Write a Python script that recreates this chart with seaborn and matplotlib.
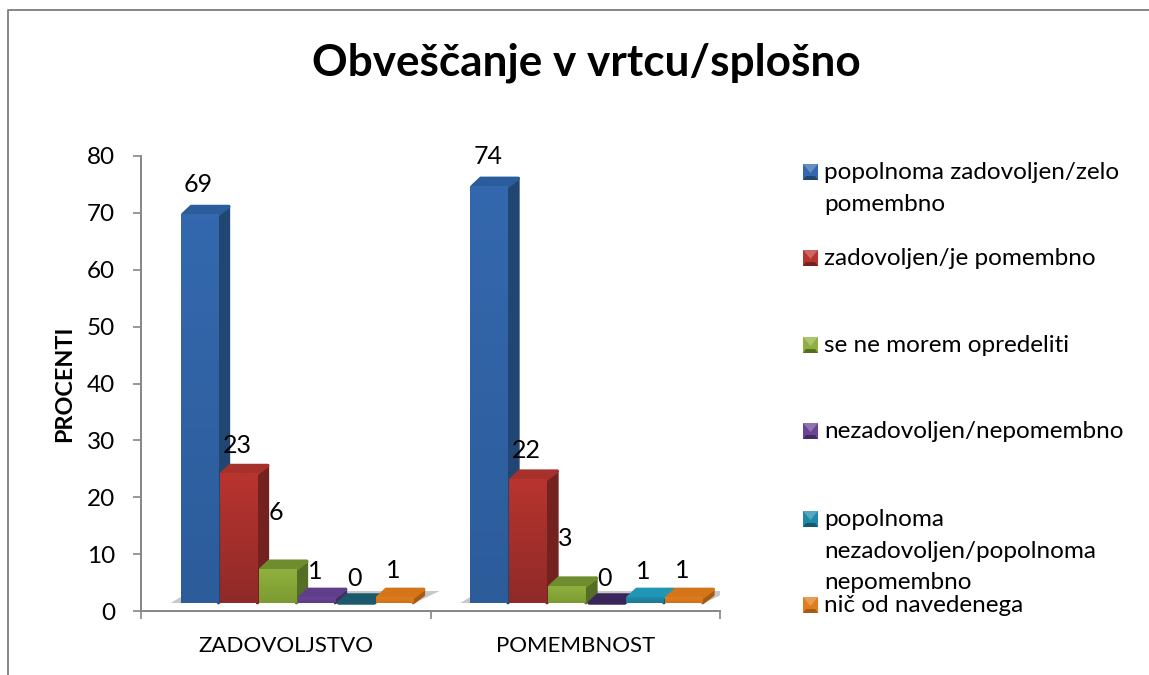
import numpy as np
import pandas as pd
import seaborn as sns
from matplotlib import pyplot as plt
from matplotlib.colors import LinearSegmentedColormap, to_rgb
from matplotlib.lines import Line2D
from matplotlib.patches import Polygon, Rectangle

kategorije = ['ZADOVOLJSTVO', 'POMEMBNOST']
odgovori = ['popolnoma zadovoljen/zelo\npomembno', 'zadovoljen/je pomembno', 'se ne morem opredeliti',
            'nezadovoljen/nepomembno', 'popolnoma\nnezadovoljen/popolnoma\nnepomembno', 'nič od navedenega']
zadovoljstvo = [69, 23, 6, 1, 0, 1]
pomembnost = [74, 22, 3, 0, 1, 1]

# (front top, front bottom, side, top) for each series
barve = [('#3468ae', '#2c5c9a', '#214672', '#2b5c9c'),
         ('#b8342f', '#8f2a28', '#73221f', '#a5302c'),
         ('#8fb03e', '#7c9a32', '#566d26', '#6f8c2e'),
         ('#6a4596', '#5c3b85', '#432c62', '#5f3f8c'),
         ('#1f8aa8', '#1b7a96', '#145a6e', '#1f86a4'),
         ('#e07d1e', '#cf7219', '#a65a12', '#d4751a')]
# bars with value 0 only show a dark lid
barve_nic = {3: '#38265a', 4: '#1b5a6c'}
# label distance above the value, px (6 and 3 were moved by hand in the original)
odmik_oznak = [[34, 35, 64, 34, 33, 35], [34, 35, 55, 33, 34, 35]]
legenda_y = [172, 258, 345, 431, 519, 605]

sns.set_theme(style='white')
plt.rcParams['font.family'] = ['Lato', 'DejaVu Sans']

df = pd.DataFrame({
    'kategorija': np.repeat(kategorije, len(odgovori)),
    'odgovor': odgovori * 2,
    'vrednost': zadovoljstvo + pomembnost,
})

fig = plt.figure(figsize=(11.49, 6.75), dpi=100)
ax = fig.add_axes([141 / 1149, 64 / 675, 579 / 1149, 455 / 675])
sns.barplot(data=df, x='kategorija', y='vrednost', hue='odgovor', hue_order=odgovori,
            width=0.808, gap=0, saturation=1, legend=False, errorbar=None, ax=ax,
            palette=[b[0] for b in barve])

px_x = 1 / 289.5
px_y = 80 / 455
premik = 12 * px_x
tla = 8 * px_y
globina_x = 10.5 * px_x
globina_y = 8 * px_y

# floor shadow under each group
for c in range(len(kategorije)):
    x0 = c - 0.404 + premik
    x1 = c + 0.404 + premik
    ax.add_patch(Polygon([(x0 - 10 * px_x, tla), (x1, tla), (x1 + 25 * px_x, tla + 12 * px_y),
                          (x0 + 10 * px_x, tla + 12 * px_y)], closed=True,
                         fc='#c8c8c8', ec='none', zorder=1))

z = 2
for h, vsebnik in enumerate(ax.containers):
    for c, bar in enumerate(vsebnik):
        v = df[df['kategorija'] == kategorije[c]]['vrednost'].iloc[h]
        x = bar.get_x() + premik
        w = bar.get_width() - 1.5 * px_x
        top = tla + v * 0.99
        bar.set_visible(False)
        lid = barve_nic.get(h, barve[h][3]) if v == 0 else barve[h][3]
        if h == 4 and c == 1:
            lid = '#2196b5'
        if v > 0:
            ax.add_patch(Polygon([(x + w, tla), (x + w + globina_x, tla + globina_y),
                                  (x + w + globina_x, top + globina_y), (x + w, top)], closed=True,
                                 fc=barve[h][2], ec=barve[h][2], lw=2, joinstyle='round', zorder=z))
        ax.add_patch(Polygon([(x + 2 * px_x, top), (x + w, top), (x + w + globina_x, top + globina_y),
                              (x + globina_x, top + globina_y)], closed=True,
                             fc=lid, ec=lid, lw=2.5, joinstyle='round', zorder=z))
        if v > 0:
            cmap = LinearSegmentedColormap.from_list('f', [barve[h][0], barve[h][1]])
            ax.imshow(np.linspace(0, 1, 64).reshape(-1, 1), cmap=cmap, aspect='auto',
                      extent=(x, x + w, tla, top), origin='upper', zorder=z + 0.5)
        ax.annotate(str(v), xy=(x + w / 2, v), xytext=(-1, odmik_oznak[c][h] * 0.72),
                    textcoords='offset points', ha='center', va='center',
                    fontsize=18, color='black', zorder=50)
        z += 1

ax.set_xlim(-0.5, 1.5)
ax.set_ylim(0, 80)
ax.set_yticks(range(0, 90, 10))
ax.set_xticks([0, 1])
ax.set_xticks([-0.5, 0.5, 1.5], minor=True)
ax.tick_params(axis='y', which='major', length=6, width=1.2, color='#868686', left=True,
               labelsize=17.5, labelcolor='black', pad=12.5)
ax.tick_params(axis='x', which='minor', length=6, width=1.2, color='#868686', bottom=True)
ax.tick_params(axis='x', which='major', length=0, labelsize=16, labelcolor='black', pad=18)
ax.set_xlabel('')
ax.set_ylabel('PROCENTI', fontsize=16.8, fontweight='bold', color='black', labelpad=8.5)
sns.despine(ax=ax)
for s in ['left', 'bottom']:
    ax.spines[s].set_color('#868686')
    ax.spines[s].set_linewidth(1.4)

fig.text(586 / 1149, 1 - 63 / 675, 'Obveščanje v vrtcu/splošno', ha='center', va='center',
         fontsize=31.8, fontweight='bold', color='black')


def svetlejsa(barva, delez):
    r = np.array(to_rgb(barva))
    return tuple(r + (1 - r) * delez)


# legend entries are spaced unevenly in the original, so they are placed one by one
fw, fh = 1 / 1149, 1 / 675
for h, odgovor in enumerate(odgovori):
    yp = legenda_y[h]
    px, py, s = 803, 1 - (yp + 8) / 675, 15
    fig.add_artist(Rectangle((px * fw, py), s * fw, 16 * fh, transform=fig.transFigure,
                             fc=barve[h][0], ec='none'))
    fig.add_artist(Polygon([(px * fw, py), ((px + s) * fw, py), ((px + s - 3) * fw, py + 4 * fh),
                            ((px + 3) * fw, py + 4 * fh)], closed=True,
                           transform=fig.transFigure, fc=barve[h][2], ec='none'))
    fig.add_artist(Polygon([(px * fw, py + 16 * fh), ((px + s) * fw, py + 16 * fh),
                            ((px + s / 2) * fw, py + 7 * fh)], closed=True,
                           transform=fig.transFigure, fc=svetlejsa(barve[h][0], 0.25), ec='none'))
    fig.text(824 / 1149, 1 - (yp - 10) / 675, odgovor, ha='left', va='top', fontsize=17.5,
             color='black', linespacing=1.62)

# outer chart frame, only left and top are inside the picture
fig.add_artist(Line2D([8 * fw, 8 * fw, 1], [0, 1 - 10 * fh, 1 - 10 * fh], transform=fig.transFigure,
                      color='#868686', lw=1.4))

fig.savefig('out.png', dpi=100, facecolor='white')
